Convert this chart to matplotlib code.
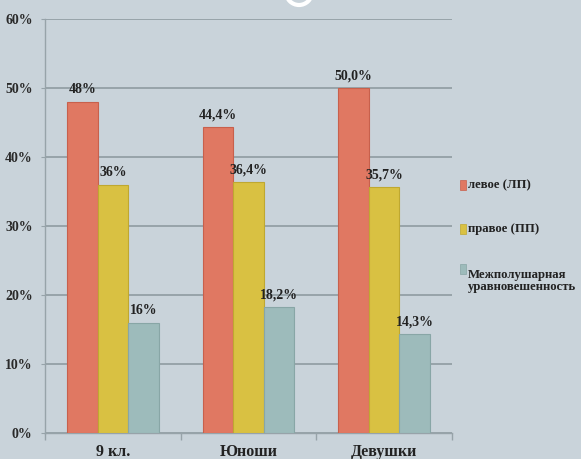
import matplotlib.pyplot as plt
import numpy as np
from matplotlib.patches import Rectangle, Circle

# данные по группам
categories = ['9 кл.', 'Юноши', 'Девушки']
series_names = ['левое (ЛП)', 'правое (ПП)', 'Межполушарная\nуравновешенность']
levoe = [48, 44.4, 50.0]
pravoe = [36, 36.4, 35.7]
mezhpol = [16, 18.2, 14.3]
decimals = [0, 1, 1]  # знаков после запятой в подписях для каждой группы
y_ticks = [0, 10, 20, 30, 40, 50, 60]

colors = ['#e07862', '#d9c142', '#9dbbbb']
edge_colors = ['#c8604c', '#bfa830', '#88a6a6']
bg = '#c9d3da'
grid_c = '#97a3a9'

plt.rcParams['font.family'] = ['Liberation Serif', 'DejaVu Serif']
plt.rcParams['font.weight'] = 'bold'

fig = plt.figure(figsize=(5.81, 4.59), dpi=100, facecolor=bg)
W, H = 581, 459
ax = fig.add_axes([45 / W, 1 - 433 / H, (452 - 45) / W, (433 - 19) / H])
ax.set_facecolor(bg)

x = np.arange(len(categories))
bw = 0.225
series = [levoe, pravoe, mezhpol]
for i, vals in enumerate(series):
    pos = x + (i - 1) * bw
    ax.bar(pos, vals, width=bw, color=colors[i], edgecolor=edge_colors[i],
           linewidth=0.8, zorder=3)
    for p, v, d in zip(pos, vals, decimals):
        txt = f'{v:.{d}f}'.replace('.', ',') + '%'
        ax.annotate(txt, (p, v), xytext=(0, 4), textcoords='offset points',
                    ha='center', va='bottom', fontsize=10, color='#222222',
                    zorder=4)

ax.set_ylim(0, 60)
ax.set_xlim(-0.5, len(categories) - 0.5)
ax.set_yticks(y_ticks)
ax.set_yticklabels([f'{t}%' for t in y_ticks], fontsize=10, color='#2a2a2a')
ax.yaxis.grid(True, color=grid_c, linewidth=1.4, zorder=0)
ax.tick_params(axis='y', length=3, color=grid_c, pad=6)

# деления между категориями, подписи по центру
ax.set_xticks(np.arange(len(categories) + 1) - 0.5)
ax.set_xticklabels([])
ax.set_xticks(x, minor=True)
ax.set_xticklabels(categories, minor=True, fontsize=11.5, color='#222222')
ax.tick_params(axis='x', which='major', length=5, color=grid_c, width=1)
ax.tick_params(axis='x', which='minor', length=0, pad=8)

for s in ['top', 'right']:
    ax.spines[s].set_visible(False)
for s in ['left', 'bottom']:
    ax.spines[s].set_color(grid_c)
    ax.spines[s].set_linewidth(1)

# легенда справа
leg_y = [185, 229, 269]
for name, c, ec, yy in zip(series_names, colors, edge_colors, leg_y):
    fig.patches.append(Rectangle((460 / W, 1 - (yy + 5) / H), 6 / W, 10 / H,
                                 transform=fig.transFigure, facecolor=c,
                                 edgecolor=ec, linewidth=0.5))
    fig.text(468 / W, 1 - yy / H, name, fontsize=9.2, color='#222222',
             va='top' if '\n' in name else 'center', ha='left',
             linespacing=1.0)

# белое кольцо у верхнего края
fig.patches.append(Circle((2.99, 4.67), 0.13, transform=fig.dpi_scale_trans,
                          facecolor='none', edgecolor='white', linewidth=3))

fig.savefig('out.png', dpi=100, facecolor=bg)
